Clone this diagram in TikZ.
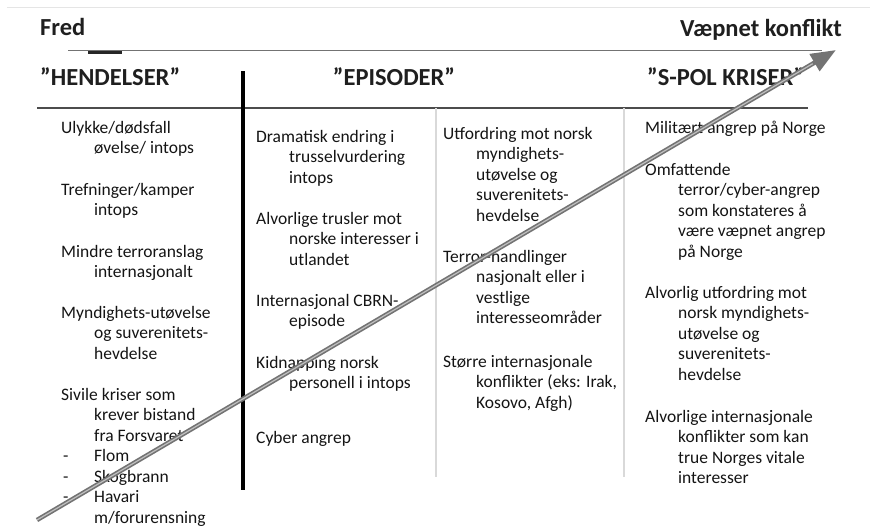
\documentclass[tikz,border=0pt]{standalone}
\usepackage{fontspec}
\setmainfont{Carlito}
\usetikzlibrary{arrows.meta}

% one list entry: lines stacked from the first baseline, 20.5pt apart
\newcommand\itm[1]{\begin{tabular}[t]{@{}l@{}}#1\end{tabular}}
\newcommand\ind{\hspace*{33pt}}
\newcommand\dsh{\makebox[33pt][l]{\hspace*{2pt}-}}

\tikzset{
  entry/.style={anchor=base west, inner sep=0pt, text=black!92,
    font=\fontsize{17.5}{20.5}\selectfont},
  heading/.style={inner sep=0pt, text=black!88,
    font=\fontsize{24.5}{28}\selectfont\bfseries},
  rule/.style={draw=black!70, line width=1.2pt},
  divider/.style={draw=black!15, line width=1.5pt},
  frame/.style={draw=black!10, line width=0.8pt},
  shaft/.style={draw=black!55, line width=4.5pt,
    -{Triangle[length=25pt,width=19pt]}},
  shine/.style={draw=black!25, line width=1.2pt}
}

\begin{document}
\begin{tikzpicture}[x=1pt,y=-1pt]
\useasboundingbox (0,0) rectangle (877,528);

% faint edge of the frame
\draw[frame] (7,7) -- (870,7);

% scale labels
\node[heading, anchor=base west] (fred) at (40,35) {Fred};
\node[heading, anchor=base east] (war) at (842,36) {Væpnet konflikt};

% scale line with the marker near the peace end
\coordinate (scaleL) at (68,50);
\coordinate (scaleR) at (822,50);
\draw[draw=black!55, line width=1pt] (scaleL) -- (scaleR);
\coordinate (markL) at (88,52);
\coordinate (markR) at (122,52);
\draw[draw=black!85, line width=3pt] (markL) -- (markR);

% column headings
\node[heading, anchor=base west] (hend) at (40,85) {”HENDELSER”};
\node[heading, anchor=base] (epis) at (394,85) {”EPISODER”};
\node[heading, anchor=base west] (spol) at (647,85) {”S-POL KRISER”};

% rule below the headings
\coordinate (ruleL) at (37,108);
\coordinate (ruleR) at (808,108);
\draw[rule] (ruleL) -- (ruleR);

% column separators
\coordinate (sepT) at (243,71);
\coordinate (sepB) at (243,490);
\draw[draw=black, line width=3.2pt] (sepT) -- (sepB);
\coordinate (d1T) at (436,108);
\coordinate (d1B) at (436,477);
\draw[divider] (d1T) -- (d1B);
\coordinate (d2T) at (624,108);
\coordinate (d2B) at (624,477);
\draw[divider] (d2T) -- (d2B);

% HENDELSER
\node[entry] (a1) at (61,133) {\itm{Ulykke/dødsfall\\\ind øvelse/ intops}};
\node[entry] (a2) at (61,195) {\itm{Trefninger/kamper\\\ind intops}};
\node[entry] (a3) at (61,257) {\itm{Mindre terroranslag\\\ind internasjonalt}};
\node[entry] (a4) at (61,318) {\itm{Myndighets-utøvelse\\\ind og suverenitets-\\\ind hevdelse}};
\node[entry] (a5) at (61,400) {\itm{Sivile kriser som\\\ind krever bistand\\\ind fra Forsvaret\\
  \dsh Flom\\\dsh Skogbrann\\\dsh Havari\\\ind m/forurensning}};

% EPISODER, first part
\node[entry] (b1) at (256,142) {\itm{Dramatisk endring i\\\ind trusselvurdering\\\ind intops}};
\node[entry] (b2) at (256,224) {\itm{Alvorlige trusler mot\\\ind norske interesser i\\\ind utlandet}};
\node[entry] (b3) at (256,306) {\itm{Internasjonal CBRN-\\\ind episode}};
\node[entry] (b4) at (256,368) {\itm{Kidnapping norsk\\\ind personell i intops}};
\node[entry] (b5) at (256,443) {\itm{Cyber angrep}};

% EPISODER, second part
\node[entry] (c1) at (443,139) {\itm{Utfordring mot norsk\\\ind myndighets-\\\ind utøvelse og\\\ind suverenitets-\\\ind hevdelse}};
\node[entry] (c2) at (443,262) {\itm{Terror-handlinger\\\ind nasjonalt eller i\\\ind vestlige\\\ind interesseområder}};
\node[entry] (c3) at (443,367) {\itm{Større internasjonale\\\ind konflikter (eks: Irak,\\\ind Kosovo, Afgh)}};

% S-POL KRISER
\node[entry] (d1) at (645,133) {\itm{Militært angrep på Norge}};
\node[entry] (d2) at (645,175) {\itm{Omfattende\\\ind terror/cyber-angrep\\\ind som konstateres å\\\ind være væpnet angrep\\\ind på Norge}};
\node[entry] (d3) at (645,298) {\itm{Alvorlig utfordring mot\\\ind norsk myndighets-\\\ind utøvelse og\\\ind suverenitets-\\\ind hevdelse}};
\node[entry] (d4) at (645,422) {\itm{Alvorlige internasjonale\\\ind konflikter som kan\\\ind true Norges vitale\\\ind interesser}};

% escalation arrow across the whole table
\coordinate (escS) at (37,520);
\coordinate (escE) at (836,50);
\draw[shaft] (escS) -- (escE);
\draw[shine, shorten >=27pt] (escS) -- (escE);
\end{tikzpicture}
\end{document}
